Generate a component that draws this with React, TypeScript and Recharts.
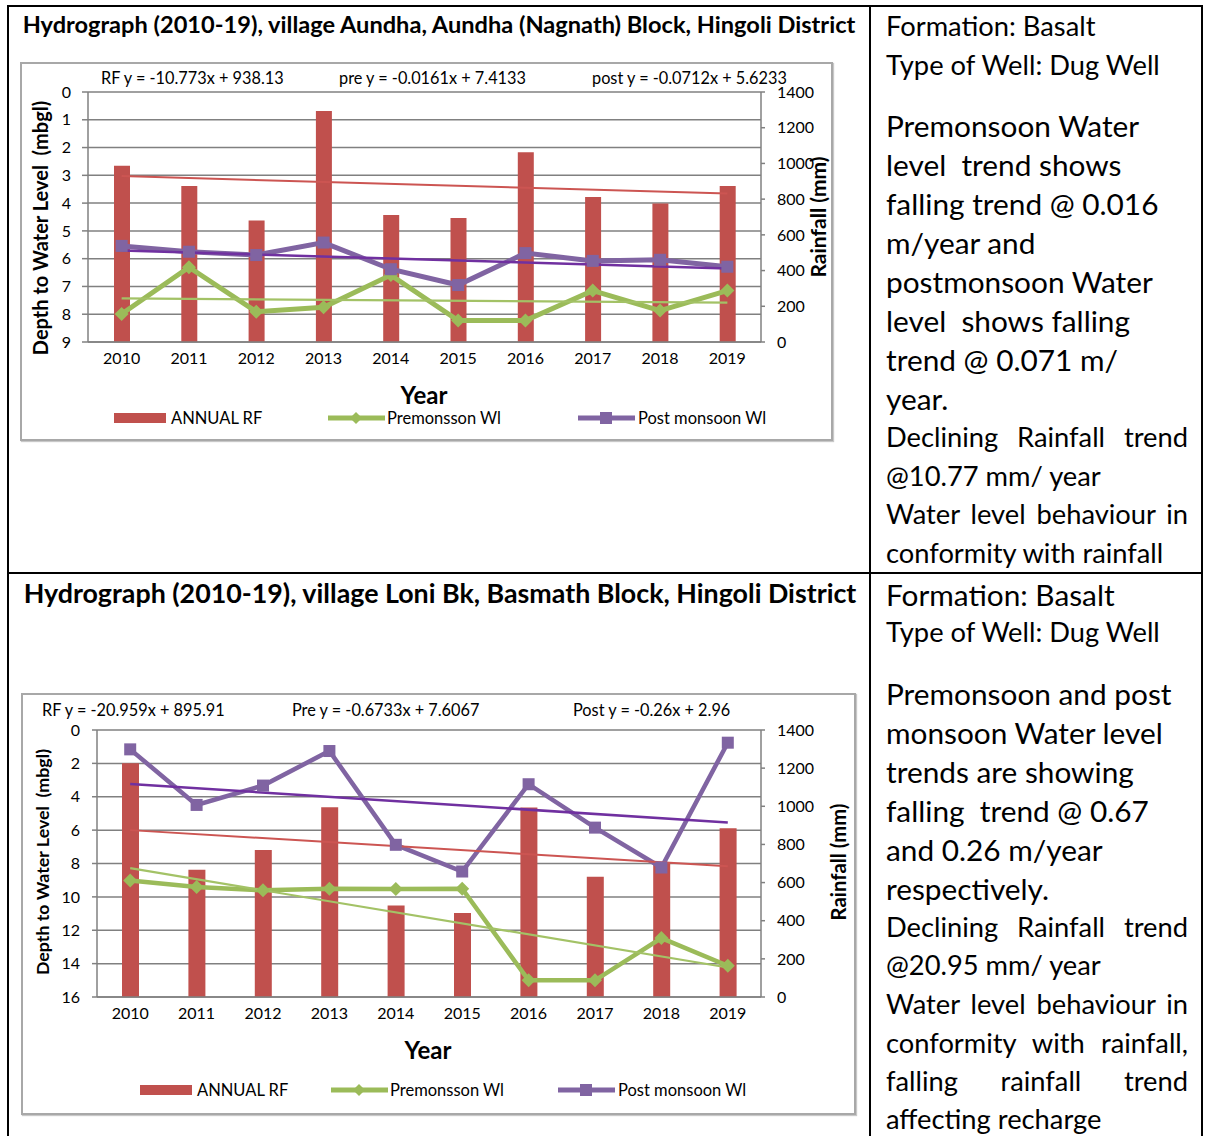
import { Bar, CartesianGrid, ComposedChart, Line, XAxis, YAxis } from "recharts";

const FONT = "Lato, 'Open Sans', sans-serif";

const YEARS = ["2010", "2011", "2012", "2013", "2014", "2015", "2016", "2017", "2018", "2019"];

// village Aundha, Aundha (Nagnath) Block
const AUNDHA_RF = [987, 874, 681, 1294, 711, 694, 1062, 812, 775, 874];
const AUNDHA_PRE = [7.99, 6.31, 7.91, 7.75, 6.59, 8.23, 8.23, 7.15, 7.87, 7.15];
const AUNDHA_POST = [5.54, 5.75, 5.87, 5.42, 6.38, 6.95, 5.8, 6.08, 6.04, 6.29];
const AUNDHA_RF_TREND = [929, 831];
const AUNDHA_PRE_TREND = [7.43, 7.58];
const AUNDHA_POST_TREND = [5.71, 6.35];
const AUNDHA_DEPTH_TICKS = [0, 1, 2, 3, 4, 5, 6, 7, 8, 9];

// village Loni Bk, Basmath Block
const LONI_RF = [1226, 667, 771, 995, 480, 440, 993, 630, 702, 885];
const LONI_PRE = [9.02, 9.41, 9.61, 9.51, 9.53, 9.51, 15.0, 15.0, 12.47, 14.13];
const LONI_POST = [1.16, 4.49, 3.33, 1.26, 6.88, 8.48, 3.25, 5.85, 8.24, 0.76];
const LONI_RF_TREND = [875, 686];
const LONI_PRE_TREND = [8.28, 14.23];
const LONI_POST_TREND = [3.23, 5.55];
const LONI_DEPTH_TICKS = [0, 2, 4, 6, 8, 10, 12, 14, 16];

const RF_TICKS = [0, 200, 400, 600, 800, 1000, 1200, 1400];

const RED = "#C0504D";
const GREEN = "#9BBB59";
const PURPLE = "#8064A2";
const GRID = "#808080";

type Margin = { top: number; right: number; bottom: number; left: number };

type ChartProps = {
  left: number;
  top: number;
  width: number;
  height: number;
  margin: Margin;
  depthTicks: number[];
  rf: number[];
  pre: number[];
  post: number[];
  rfTrend: number[];
  preTrend: number[];
  postTrend: number[];
  barSize: number;
  seriesWidth: number;
  leftTickMargin: number;
  leftTickSize: number;
};

const ends = (pair: number[], i: number) => (i === 0 ? pair[0] : i === YEARS.length - 1 ? pair[1] : null);

const Square = (props: any) => {
  const { cx, cy, index } = props;
  if (cx == null || cy == null) return <g key={index} />;
  return <rect key={index} x={cx - 6} y={cy - 6} width={12} height={12} fill={PURPLE} />;
};

const Diamond = (props: any) => {
  const { cx, cy, index } = props;
  if (cx == null || cy == null) return <g key={index} />;
  return <polygon key={index} points={`${cx},${cy - 7} ${cx + 7},${cy} ${cx},${cy + 7} ${cx - 7},${cy}`} fill={GREEN} />;
};

const HydroChart = (p: ChartProps) => {
  const data = YEARS.map((year, i) => ({
    year,
    rf: p.rf[i],
    pre: p.pre[i],
    post: p.post[i],
    rfTrend: ends(p.rfTrend, i),
    preTrend: ends(p.preTrend, i),
    postTrend: ends(p.postTrend, i),
  }));
  const depthMax = p.depthTicks[p.depthTicks.length - 1];
  const tickStyle = { fill: "#000", fontSize: 16, fontFamily: FONT };
  return (
    <div style={{ position: "absolute", left: p.left, top: p.top }}>
      <ComposedChart width={p.width} height={p.height} data={data} margin={p.margin}>
        <CartesianGrid yAxisId="depth" vertical={false} stroke={GRID} strokeWidth={1.5} />
        <XAxis
          dataKey="year"
          height={30}
          tickLine={false}
          tickSize={0}
          tickMargin={11}
          axisLine={{ stroke: GRID, strokeWidth: 1.5 }}
          tick={tickStyle}
          interval={0}
        />
        <YAxis
          yAxisId="depth"
          orientation="left"
          reversed
          domain={[0, depthMax]}
          ticks={p.depthTicks}
          interval={0}
          width={40}
          tickSize={p.leftTickSize}
          tickMargin={p.leftTickMargin}
          axisLine={{ stroke: GRID, strokeWidth: 1.5 }}
          tickLine={{ stroke: GRID, strokeWidth: 1.5 }}
          tick={tickStyle}
        />
        <YAxis
          yAxisId="rf"
          orientation="right"
          domain={[0, 1400]}
          ticks={RF_TICKS}
          interval={0}
          width={60}
          tickSize={4}
          tickMargin={12}
          axisLine={{ stroke: GRID, strokeWidth: 1.5 }}
          tickLine={{ stroke: GRID, strokeWidth: 1.5 }}
          tick={{ ...tickStyle, textAnchor: "start" }}
        />
        <Bar yAxisId="rf" dataKey="rf" fill={RED} barSize={p.barSize} isAnimationActive={false} />
        <Line
          yAxisId="depth"
          dataKey="pre"
          stroke={GREEN}
          strokeWidth={p.seriesWidth}
          dot={Diamond}
          activeDot={false}
          isAnimationActive={false}
        />
        <Line
          yAxisId="depth"
          dataKey="post"
          stroke={PURPLE}
          strokeWidth={p.seriesWidth}
          dot={Square}
          activeDot={false}
          isAnimationActive={false}
        />
        <Line yAxisId="rf" dataKey="rfTrend" stroke="#CC5552" strokeWidth={2} dot={false} connectNulls isAnimationActive={false} />
        <Line yAxisId="depth" dataKey="preTrend" stroke="#A3C266" strokeWidth={2.2} dot={false} connectNulls isAnimationActive={false} />
        <Line yAxisId="depth" dataKey="postTrend" stroke="#7030A0" strokeWidth={2.5} dot={false} connectNulls isAnimationActive={false} />
      </ComposedChart>
    </div>
  );
};

const Txt = ({ x, y, children, size = 16.3, bold = false, rotate = false, anchor = "start" }: any) => (
  <div
    style={{
      position: "absolute",
      left: x,
      top: y,
      transform: `translate(${anchor === "middle" ? "-50%" : "0"}, -50%)${rotate ? " rotate(-90deg)" : ""}`,
      transformOrigin: anchor === "middle" ? "center" : "left center",
      fontFamily: FONT,
      fontSize: size,
      fontWeight: bold ? 700 : 400,
      whiteSpace: "pre",
      lineHeight: 1.2,
      color: "#000",
    }}
  >
    {children}
  </div>
);

const LegendRow = ({ x, y, offsets }: { x: number; y: number; offsets: number[] }) => (
  <div style={{ position: "absolute", left: x, top: y - 10, height: 20, fontFamily: FONT, fontSize: 16.5 }}>
    <div style={{ position: "absolute", left: offsets[0], top: 5, width: 52, height: 10, background: RED }} />
    <div style={{ position: "absolute", left: offsets[0] + 57, top: 0, lineHeight: "20px", whiteSpace: "nowrap" }}>ANNUAL RF</div>
    <svg style={{ position: "absolute", left: offsets[1], top: 0 }} width={57} height={20}>
      <line x1={0} x2={57} y1={10} y2={10} stroke={GREEN} strokeWidth={5} strokeLinecap="round" />
      <polygon points="28,4 34,10 28,16 22,10" fill={GREEN} />
    </svg>
    <div style={{ position: "absolute", left: offsets[1] + 59, top: 0, lineHeight: "20px", whiteSpace: "nowrap" }}>Premonsson Wl</div>
    <svg style={{ position: "absolute", left: offsets[2], top: 0 }} width={57} height={20}>
      <line x1={0} x2={57} y1={10} y2={10} stroke={PURPLE} strokeWidth={5} strokeLinecap="round" />
      <rect x={22} y={4} width={12} height={12} fill={PURPLE} />
    </svg>
    <div style={{ position: "absolute", left: offsets[2] + 60, top: 0, lineHeight: "20px", whiteSpace: "nowrap" }}>Post monsoon Wl</div>
  </div>
);

type NoteLine = { text: string; y: number; big?: boolean; justify?: boolean };

const SMALL = 27.3;
const BIG = 29.8;

const NOTE_AUNDHA: NoteLine[] = [
  { text: "Formation: Basalt", y: 26 },
  { text: "Type of Well: Dug Well", y: 65 },
  { text: "Premonsoon Water", y: 126, big: true },
  { text: "level  trend shows", y: 165, big: true },
  { text: "falling trend @ 0.016", y: 204, big: true },
  { text: "m/year and", y: 243, big: true },
  { text: "postmonsoon Water", y: 282, big: true },
  { text: "level  shows falling", y: 321, big: true },
  { text: "trend @ 0.071 m/", y: 360, big: true },
  { text: "year.", y: 399, big: true },
  { text: "Declining Rainfall trend", y: 437, justify: true },
  { text: "@10.77 mm/ year", y: 476 },
  { text: "Water level behaviour in", y: 514, justify: true },
  { text: "conformity with rainfall", y: 553 },
];

const NOTE_LONI: NoteLine[] = [
  { text: "Formation: Basalt", y: 595, big: true },
  { text: "Type of Well: Dug Well", y: 632 },
  { text: "Premonsoon and post", y: 694, big: true },
  { text: "monsoon Water level", y: 733, big: true },
  { text: "trends are showing", y: 772, big: true },
  { text: "falling  trend @ 0.67", y: 811, big: true },
  { text: "and 0.26 m/year", y: 850, big: true },
  { text: "respectively.", y: 889, big: true },
  { text: "Declining Rainfall trend", y: 927, justify: true },
  { text: "@20.95 mm/ year", y: 965 },
  { text: "Water level behaviour in", y: 1004, justify: true },
  { text: "conformity with rainfall,", y: 1043, justify: true },
  { text: "falling rainfall trend", y: 1081, justify: true },
  { text: "affecting recharge", y: 1119 },
];

const Note = ({ lines }: { lines: NoteLine[] }) => (
  <>
    {lines.map((l) => (
      <div
        key={l.y}
        style={{
          position: "absolute",
          left: 886,
          width: 302,
          top: l.y - 20,
          height: 40,
          lineHeight: "40px",
          fontFamily: FONT,
          fontSize: l.big ? BIG : SMALL,
          whiteSpace: l.justify ? "normal" : "pre",
          textAlign: l.justify ? "justify" : "left",
          textAlignLast: l.justify ? "justify" : "auto",
          color: "#000",
        }}
      >
        {l.text}
      </div>
    ))}
  </>
);

const Rule = ({ x, y, w, h }: { x: number; y: number; w: number; h: number }) => (
  <div style={{ position: "absolute", left: x, top: y, width: w, height: h, background: "#000" }} />
);

const Frame = ({ x, y, w, h }: { x: number; y: number; w: number; h: number }) => (
  <div
    style={{
      position: "absolute",
      left: x,
      top: y,
      width: w,
      height: h,
      boxSizing: "border-box",
      border: "2px solid #a8a8a8",
      boxShadow: "1px 1px 1px #c8c8c8",
    }}
  />
);

export default function App() {
  return (
    <div style={{ position: "absolute", left: 0, top: 0, width: 1209, height: 1136, background: "#fff", overflow: "hidden" }}>
      {/* table rules */}
      <Rule x={7} y={5} w={1196} h={2} />
      <Rule x={7} y={5} w={2} h={1131} />
      <Rule x={1201} y={5} w={2} h={1131} />
      <Rule x={869} y={5} w={2} h={1131} />
      <Rule x={7} y={572} w={1196} h={2} />

      <Txt x={439} y={24} size={23.6} bold anchor="middle">
        Hydrograph (2010-19), village Aundha, Aundha (Nagnath) Block, Hingoli District
      </Txt>
      <Txt x={440} y={593} size={26.8} bold anchor="middle">
        Hydrograph (2010-19), village Loni Bk, Basmath Block, Hingoli District
      </Txt>

      {/* Aundha */}
      <Frame x={20} y={62} w={813} h={379} />
      <HydroChart
        left={20}
        top={62}
        width={813}
        height={379}
        margin={{ top: 30, right: 12, bottom: 69, left: 28 }}
        depthTicks={AUNDHA_DEPTH_TICKS}
        rf={AUNDHA_RF}
        pre={AUNDHA_PRE}
        post={AUNDHA_POST}
        rfTrend={AUNDHA_RF_TREND}
        preTrend={AUNDHA_PRE_TREND}
        postTrend={AUNDHA_POST_TREND}
        barSize={16}
        seriesWidth={5}
        leftTickSize={6}
        leftTickMargin={11}
      />
      <Txt x={101} y={78}>RF y = -10.773x + 938.13</Txt>
      <Txt x={339} y={78}>pre y = -0.0161x + 7.4133</Txt>
      <Txt x={592} y={78}>post y = -0.0712x + 5.6233</Txt>
      <Txt x={40} y={228} size={20} bold rotate anchor="middle">Depth to Water Level  (mbgl)</Txt>
      <Txt x={818} y={217} size={21} bold rotate anchor="middle">Rainfall (mm)</Txt>
      <Txt x={424} y={395} size={24} bold anchor="middle">Year</Txt>
      <LegendRow x={0} y={418} offsets={[114, 328, 578]} />

      {/* Loni Bk */}
      <Frame x={21} y={693} w={835} h={422} />
      <HydroChart
        left={21}
        top={693}
        width={835}
        height={422}
        margin={{ top: 37, right: 35, bottom: 88, left: 36 }}
        depthTicks={LONI_DEPTH_TICKS}
        rf={LONI_RF}
        pre={LONI_PRE}
        post={LONI_POST}
        rfTrend={LONI_RF_TREND}
        preTrend={LONI_PRE_TREND}
        postTrend={LONI_POST_TREND}
        barSize={17}
        seriesWidth={4.5}
        leftTickSize={5}
        leftTickMargin={12}
      />
      <Txt x={42} y={710}>RF y = -20.959x + 895.91</Txt>
      <Txt x={292} y={710}>Pre y = -0.6733x + 7.6067</Txt>
      <Txt x={573} y={710}>Post y = -0.26x + 2.96</Txt>
      <Txt x={43} y={862} size={17.8} bold rotate anchor="middle">Depth to Water Level  (mbgl)</Txt>
      <Txt x={838} y={862} size={20.3} bold rotate anchor="middle">Rainfall (mm)</Txt>
      <Txt x={428} y={1050} size={24} bold anchor="middle">Year</Txt>
      <LegendRow x={0} y={1090} offsets={[140, 331, 558]} />

      <Note lines={NOTE_AUNDHA} />
      <Note lines={NOTE_LONI} />
    </div>
  );
}
